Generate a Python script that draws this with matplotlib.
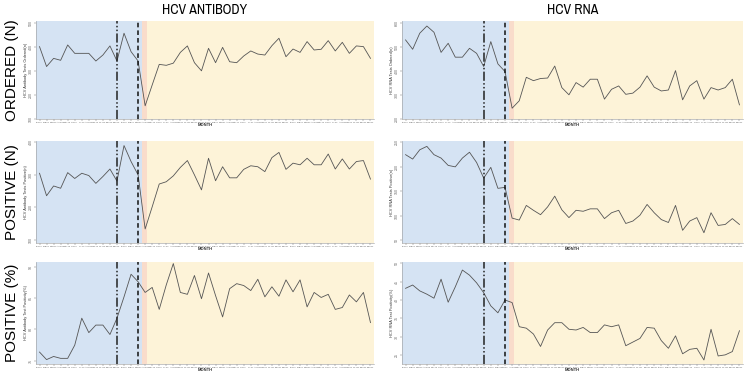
import numpy as np
import pandas as pd
import matplotlib
matplotlib.use("Agg")
import matplotlib.pyplot as plt
from matplotlib import font_manager

plt.rcParams['font.family'] = ['Liberation Sans', 'DejaVu Sans']

# a narrow face for the headings if one is installed
installed = sorted({f.name for f in font_manager.fontManager.ttflist})
narrow = [n for n in installed if "Narrow" in n or "Condensed" in n]
head_family = [narrow[0], 'Liberation Sans'] if narrow else ['Liberation Sans']
head_size = 10 if narrow else 9

### data (monthly, Jan 2019 - Dec 2022)
months = pd.date_range("2019-01-01", periods=48, freq="MS").strftime("%b%y").str.upper().tolist()

ab_ordered = [400, 317, 351, 343, 407, 372, 372, 372, 340, 365, 403, 340,
              456, 379, 340, 153, 240, 326, 322, 331, 376, 403, 333, 299,
              393, 333, 397, 337, 333, 361, 382, 369, 365, 404, 435, 358,
              390, 376, 421, 386, 389, 425, 382, 418, 372, 403, 400, 351]
rna_ordered = [528, 489, 556, 586, 560, 476, 514, 456, 456, 493, 472, 417,
               521, 428, 396, 243, 274, 372, 358, 367, 369, 419, 329, 299,
               350, 331, 364, 364, 281, 322, 336, 301, 306, 331, 378, 331,
               315, 319, 400, 278, 336, 358, 281, 329, 319, 329, 364, 257]
ab_positive = [305, 236, 266, 259, 307, 289, 305, 298, 274, 295, 318, 281,
               390, 341, 300, 134, 202, 272, 279, 297, 323, 344, 300, 254,
               351, 282, 325, 291, 291, 317, 328, 325, 310, 353, 369, 317,
               336, 331, 351, 331, 331, 364, 318, 349, 318, 341, 344, 287]
rna_positive = [225, 216, 235, 242, 225, 218, 203, 200, 218, 230, 209, 177,
                199, 156, 158, 95, 91, 121, 111, 102, 118, 140, 112, 96,
                111, 109, 114, 114, 94, 106, 111, 84, 89, 101, 123, 106,
                92, 86, 121, 70, 89, 96, 65, 106, 80, 82, 94, 82]
ab_pct = [76.4, 75.2, 75.7, 75.4, 75.4, 77.5, 81.8, 79.5, 80.7, 80.7, 79.2, 81.8,
          85.2, 88.8, 87.6, 85.9, 86.7, 83.2, 87.1, 90.5, 85.9, 85.6, 88.6, 84.9,
          89.0, 85.4, 82.0, 86.5, 87.3, 87.0, 86.2, 88.0, 85.2, 86.8, 85.3, 87.9,
          86.0, 87.9, 83.6, 85.9, 85.1, 85.6, 83.2, 83.5, 85.5, 84.4, 85.9, 81.1]
rna_pct = [43.2, 44.1, 42.5, 41.6, 40.5, 45.7, 39.4, 43.6, 48.2, 46.8, 44.7, 42.0,
           38.4, 36.5, 40.0, 39.3, 32.7, 32.3, 30.7, 27.3, 31.8, 33.8, 33.8, 32.0,
           31.8, 32.5, 31.1, 31.1, 33.2, 32.7, 33.2, 27.5, 28.5, 29.5, 32.5, 32.3,
           28.9, 26.8, 30.2, 25.3, 26.5, 26.8, 23.6, 32.0, 24.7, 25.0, 25.9, 31.6]

# period markers (month index)
first_case = 11
pandemic = 14
lockdown_start, lockdown_end = 14.5, 15.3

panels = [
    # series, ylabel, ylim, yticks
    [(ab_ordered, "HCV Antibody Tests Ordered(n)", (98, 507), [100, 200, 300, 400, 500]),
     (rna_ordered, "HCV RNA Tests Ordered(n)", (198, 607), [200, 300, 400, 500, 600])],
    [(ab_positive, "HCV Antibody Tests Positive(n)", (91, 404), [100, 200, 300, 400]),
     (rna_positive, "HCV RNA Tests Positive(n)", (44, 253), [50, 100, 150, 200, 250])],
    [(ab_pct, "HCV Antibody Test Positivity(%)", (74.5, 90.75), [75, 80, 85, 90]),
     (rna_pct, "HCV RNA Test Positivity(%)", (22.5, 50.4), [25, 30, 35, 40, 45, 50])],
]

fig = plt.figure(figsize=(7.48, 3.77), dpi=100)

col_x = [(36, 374), (402, 743)]
row_y = [(21, 119), (141, 243), (262, 364)]
W, H = 748, 377

x = np.arange(len(months))
for r in range(3):
    for c in range(2):
        vals, ylab, ylim, yticks = panels[r][c]
        x0, x1 = col_x[c]
        top, bot = row_y[r]
        ax = fig.add_axes([x0 / W, 1 - bot / H, (x1 - x0) / W, (bot - top) / H])
        ax.set_xlim(-0.5, len(months) - 0.5)
        ax.set_ylim(*ylim)
        ax.axvspan(-0.5, lockdown_start, color="#d5e3f3", lw=0, zorder=0)
        ax.axvspan(lockdown_start, lockdown_end, color="#f9dccb", lw=0, zorder=0)
        ax.axvspan(lockdown_end, len(months) - 0.5, color="#fdf3d8", lw=0, zorder=0)
        ax.plot(x, vals, color="#555555", lw=0.6, zorder=3)
        ax.axvline(first_case, color="#222222", lw=1.1, ls=(0, (6, 1.5, 1, 1.5, 1, 1.5)), zorder=4)
        ax.axvline(pandemic, color="#111111", lw=1.1, ls=(0, (3, 2)), zorder=4)
        ax.set_xticks(x)
        ax.set_xticklabels(months, fontsize=1.6, color="#444444")
        ax.set_yticks(yticks)
        ax.set_yticklabels([str(t) for t in yticks], fontsize=2.6, rotation=90, va="center", color="#444444")
        ax.tick_params(length=1.2, width=0.3, pad=1, colors="#666666")
        ax.set_ylabel(ylab, fontsize=2.8, labelpad=1, color="#333333")
        ax.set_xlabel("MONTH", fontsize=3, labelpad=0, fontweight="bold", color="#333333")
        for s in ["top", "right"]:
            ax.spines[s].set_visible(False)
        for s in ["left", "bottom"]:
            ax.spines[s].set_color("#999999")
            ax.spines[s].set_linewidth(0.4)

fig.text(205 / W, 1 - 10 / H, "HCV ANTIBODY", ha="center", va="center",
         fontsize=head_size, family=head_family)
fig.text(573 / W, 1 - 10 / H, "HCV RNA", ha="center", va="center",
         fontsize=head_size, family=head_family)
for label, (top, bot) in zip(["ORDERED (N)", "POSITIVE (N)", "POSITIVE (%)"], row_y):
    fig.text(12 / W, 1 - (top + bot) / 2 / H, label, ha="center", va="center",
             rotation=90, fontsize=11)

fig.savefig("out.png", dpi=100)
